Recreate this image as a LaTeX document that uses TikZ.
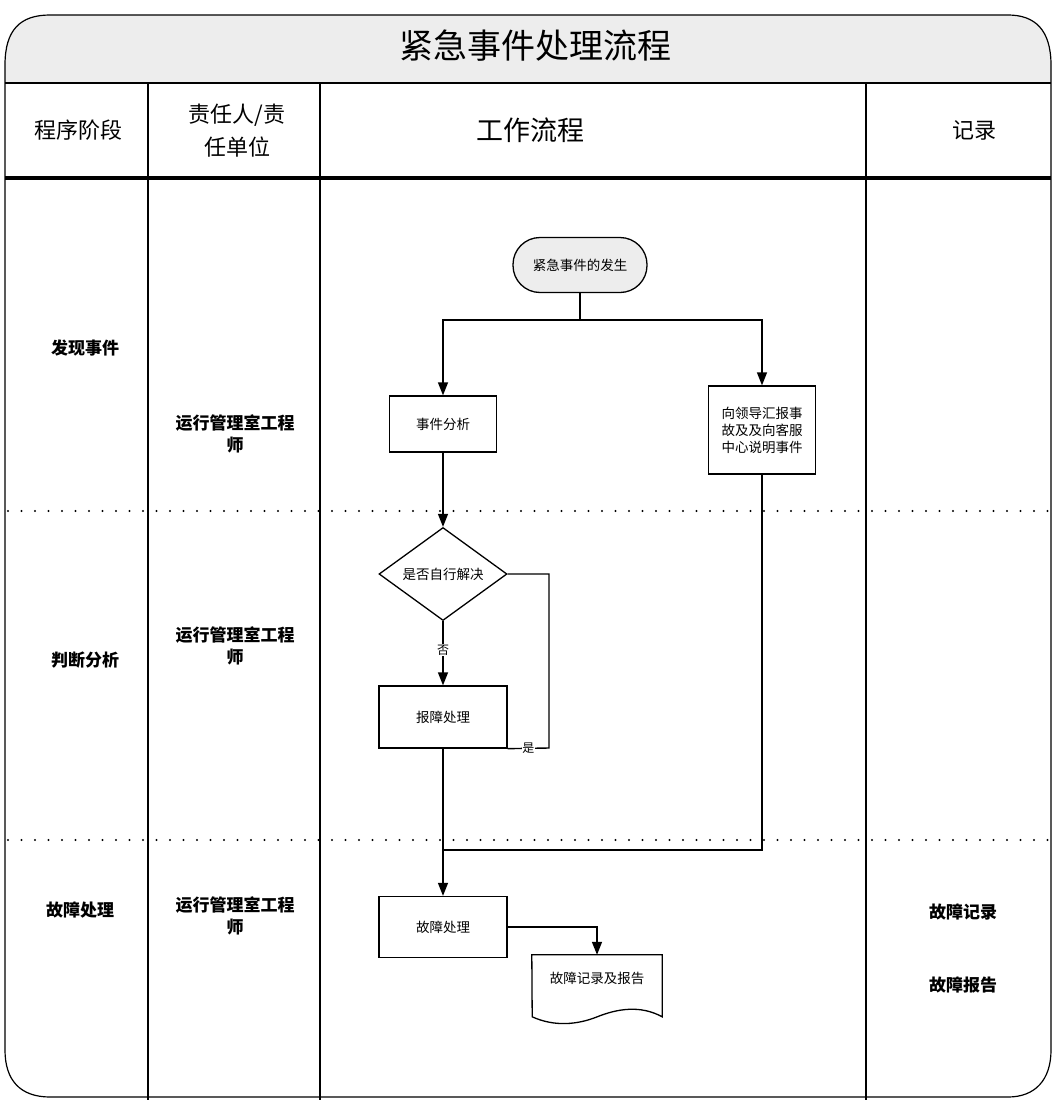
\documentclass[tikz,border=0pt]{standalone}
\usepackage{fontspec}
\newfontfamily\cjk{Noto Sans CJK SC}
\usetikzlibrary{arrows.meta,shapes.geometric}
\begin{document}
\begin{tikzpicture}[x=1pt,y=-1pt,
  box/.style={draw,line width=1.3pt,font=\cjk\fontsize{13.5}{17}\selectfont,align=center,inner sep=0pt},
  flow/.style={line width=1.4pt,-{Triangle[length=13pt,width=10pt]}},
  plain/.style={line width=1.4pt},
  frame/.style={line width=1.2pt},
  sep/.style={line width=2.2pt,dash pattern=on 0pt off 13.5pt,line cap=round},
  lbl/.style={font=\cjk\bfseries\fontsize{17}{22}\selectfont,align=center},
  head/.style={font=\cjk\fontsize{22}{33}\selectfont,align=center},
  tiny/.style={font=\cjk\fontsize{12}{14}\selectfont,fill=white,inner sep=0.5pt}]
\useasboundingbox (0,0) rectangle (1054,1100);
% title band
\fill[gray!14] (5,83) -- (5,65) .. controls (5,30) and (20,15) .. (50,15) -- (1008,15) .. controls (1035,15) and (1051,30) .. (1051,65) -- (1051,83) -- cycle;
\draw[frame] (5,65) .. controls (5,30) and (20,15) .. (50,15) -- (1008,15) .. controls (1035,15) and (1051,30) .. (1051,65)
  -- (1051,1050) .. controls (1051,1080) and (1035,1097) .. (1008,1097) -- (50,1097)
  .. controls (20,1097) and (5,1080) .. (5,1050) -- cycle;
\node[font=\cjk\fontsize{34}{40}\selectfont] (title) at (535,46) {紧急事件处理流程};
% grid
\draw[frame] (5,83) -- (1051,83);
\draw[line width=3.2pt] (5,178) -- (1051,178);
\draw[line width=1.6pt] (148,83) -- (148,1100);
\draw[line width=1.6pt] (320,83) -- (320,1100);
\draw[line width=1.6pt] (866,83) -- (866,1100);
\draw[sep] (8,511) -- (1054,511);
\draw[sep] (8,840) -- (1054,840);
% headers
\node[head] (h1) at (78,130) {程序阶段};
\node[head] (h2) at (237,131) {责任人/责\\任单位};
\node[font=\cjk\fontsize{27}{33}\selectfont] (h3) at (530,130) {工作流程};
\node[head] (h4) at (974,130) {记录};
% left columns
\node[lbl] (p1) at (85,348) {发现事件};
\node[lbl] (p2) at (85,660) {判断分析};
\node[lbl] (p3) at (80,910) {故障处理};
\node[lbl] (r1) at (235,434) {运行管理室工程\\师};
\node[lbl] (r2) at (235,646) {运行管理室工程\\师};
\node[lbl] (r3) at (235,916) {运行管理室工程\\师};
\node[lbl] (rec1) at (963,912) {故障记录};
\node[lbl] (rec2) at (963,985) {故障报告};
% flow nodes
\node[box,rounded corners=27pt,fill=gray!14,minimum width=134pt,minimum height=55pt] (start) at (580,265) {紧急事件的发生};
\node[box,minimum width=107pt,minimum height=56pt] (analyze) at (443,424) {事件分析};
\node[box,minimum width=107pt,minimum height=88pt] (report) at (762,430) {向领导汇报事\\故及及向客服\\中心说明事件};
\node[box,diamond,aspect=1.38,minimum width=128pt,minimum height=93pt] (decide) at (443,574) {是否自行解决};
\node[box,minimum width=128pt,minimum height=62pt] (handle) at (443,717) {报障处理};
\node[box,minimum width=128pt,minimum height=61pt] (fault) at (443,927) {故障处理};
\node[font=\cjk\fontsize{13.5}{17}\selectfont,minimum width=130pt,minimum height=46pt,inner sep=0pt] (doc) at (597,978) {故障记录及报告};
\draw[line width=1.3pt] (doc.north west) -- (doc.north east) -- ++(0,62)
  .. controls ++(-22,-12) and ++(20,-8) .. ++(-65,0)
  .. controls ++(-20,8) and ++(22,10) .. ++(-65,0) -- cycle;
% connectors
\coordinate (split) at (580,320);
\draw[plain] (start.south) -- (split);
\draw[flow] (split) -| (analyze.north);
\draw[flow] (split) -| (report.north);
\draw[flow] (analyze.south) -- (decide.north);
\draw[flow] (decide.south) -- node[tiny,pos=0.45] {否} (handle.north);
\coordinate (yesturn) at (549,748);
\draw[plain] (decide.east) -| (yesturn) -- node[tiny,pos=0.5] {是} (handle.south east);
\draw[flow] (handle.south) -- (fault.north);
\coordinate (merge) at (443,850);
\draw[plain] (report.south) |- (merge);
\draw[flow] (fault.east) -| (doc.north);
\end{tikzpicture}
\end{document}
